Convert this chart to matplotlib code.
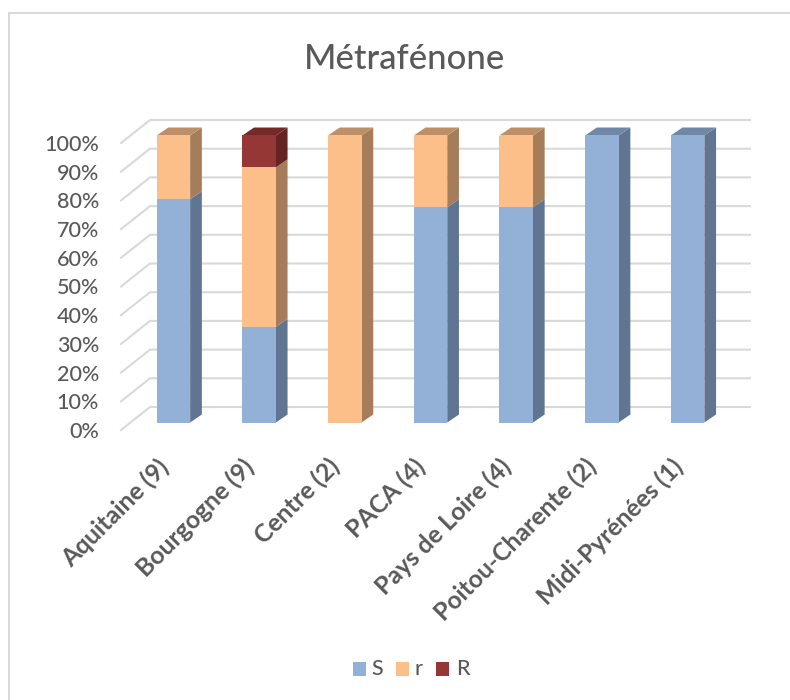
import matplotlib
matplotlib.use("Agg")
import matplotlib.pyplot as plt
from matplotlib.patches import Polygon, Rectangle
from matplotlib.lines import Line2D

plt.rcParams['font.family'] = ['Lato', 'DejaVu Sans']

regions = ["Aquitaine (9)", "Bourgogne (9)", "Centre (2)", "PACA (4)",
           "Pays de Loire (4)", "Poitou-Charente (2)", "Midi-Pyrénées (1)"]
s_values = [77.8, 33.3, 0, 75, 75, 100, 100]
r_lower_values = [22.2, 55.6, 100, 25, 25, 0, 0]
r_upper_values = [0, 11.1, 0, 0, 0, 0, 0]
pct_ticks = list(range(0, 101, 10))

series = [
    ("S", s_values, "#93b1d7", "#5f7591", "#6f88a8"),
    ("r", r_lower_values, "#fcbf8a", "#a67d5a", "#bd8f67"),
    ("R", r_upper_values, "#953735", "#632423", "#742a29"),
]

TEXT = "#595959"
GRID = "#d9d9d9"
W, H = 790, 700

fig = plt.figure(figsize=(W / 100, H / 100), dpi=100)

# Plot box in pixels: left, right, top, bottom
L, RT, T, B = 121, 750, 120, 430
ax = fig.add_axes([L / W, 1 - B / H, (RT - L) / W, (B - T) / H])
PX_X = 85.7
PX_Y = 2.87
ax.set_xlim((L - 173.4) / PX_X, (RT - 173.4) / PX_X)
ax.set_ylim(-(B - 422.5) / PX_Y, (422.5 - T) / PX_Y)
ax.axis("off")

bar_w = 33.5 / PX_X
dx = 11.7 / PX_X
dy = 8 / PX_Y

# Floor and back wall lines of the 3-D frame
back_x = (150 - 173.4) / PX_X
front_x = (L - 173.4) / PX_X
right_x = (RT - 173.4) / PX_X
for p in pct_ticks:
    ax.plot([front_x, back_x, right_x],
            [p - (B - 422.5) / PX_Y, p + 15.5 / PX_Y, p + 15.5 / PX_Y],
            color=GRID, lw=1.5, zorder=1, solid_joinstyle="miter", clip_on=False)
    ax.text(front_x - 22 / PX_X, p - (B - 422.5) / PX_Y, f"{p}%", ha="right",
            va="center_baseline", fontsize=15.5, fontweight="medium", color=TEXT,
            clip_on=False)

# Stacked prisms: front face, side face, and a cap on the top segment
for i in range(len(regions)):
    base = 0
    x0 = i - bar_w / 2
    x1 = i + bar_w / 2
    top_color = None
    for name, vals, front, side, cap in series:
        v = vals[i]
        if v <= 0:
            continue
        ax.add_patch(Polygon([(x1, base), (x1 + dx, base + dy),
                              (x1 + dx, base + v + dy), (x1, base + v)],
                             facecolor=side, edgecolor="none", zorder=3))
        ax.add_patch(Rectangle((x0, base), bar_w, v, facecolor=front,
                               edgecolor="none", zorder=4))
        base += v
        top_color = cap
    ax.add_patch(Polygon([(x0, base), (x0 + dx, base + dy),
                          (x1 + dx, base + dy), (x1, base)],
                         facecolor=top_color, edgecolor="none", zorder=3))

# Slanted category labels, anchored at their upper right end
for i, name in enumerate(regions):
    ax.text(i - 0.2, -11.2, name, rotation=45, rotation_mode="anchor", ha="right",
            va="top", fontsize=17.8, fontweight="bold", color=TEXT, clip_on=False)

fig.text(405 / W, 1 - 59 / H, "Métrafénone", ha="center", va="center",
         fontsize=25, fontweight="medium", color=TEXT)

# Legend swatches and labels
for name, x_sw, x_tx, col in [("S", 353, 371, series[0][2]),
                              ("r", 396, 415, series[1][2]),
                              ("R", 436, 456, series[2][2])]:
    fig.add_artist(Rectangle((x_sw / W, 1 - 676 / H), 13 / W, 14 / H, facecolor=col,
                             edgecolor="none", transform=fig.transFigure))
    fig.text(x_tx / W, 1 - 669 / H, name, ha="left", va="center", fontsize=15.5,
             fontweight="medium", color=TEXT)

# Chart-area frame: only the top and left edges fall inside the canvas
for xs, ys in [((9, 790), (13, 13)), ((9, 9), (13, 700))]:
    fig.add_artist(Line2D([x / W for x in xs], [1 - y / H for y in ys], color=GRID,
                          lw=1.5, transform=fig.transFigure))

fig.savefig("out.png", dpi=100)
